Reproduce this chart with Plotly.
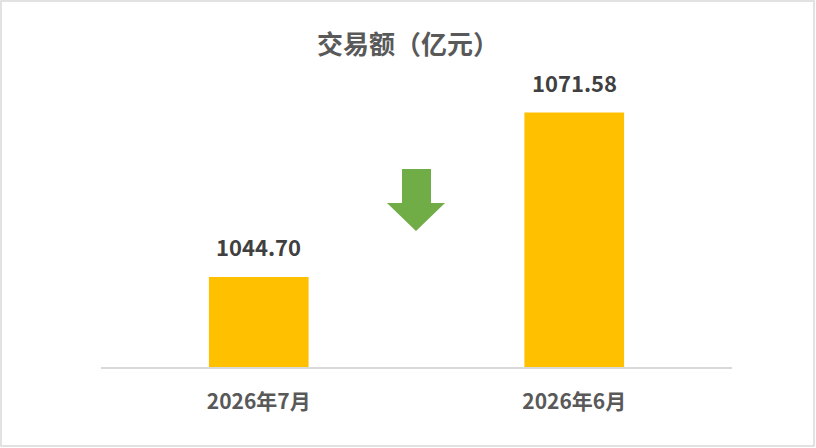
import plotly.graph_objects as go

# data
months = ['2026年7月', '2026年6月']
amounts = [1044.70, 1071.58]
title_text = '交易额（亿元）'

bar_color = '#FFC000'
arrow_color = '#70AD47'
font_family = 'Noto Sans CJK SC'

W, H = 816, 448
margin = dict(l=101, r=84, t=61, b=81)
pw = W - margin['l'] - margin['r']
ph = H - margin['t'] - margin['b']


def px_to_paper(x, y):
    # pixel coords of the page -> paper coords of the plot area
    return (x - margin['l']) / pw, (H - margin['b'] - y) / ph


fig = go.Figure()
fig.add_trace(go.Bar(
    x=months,
    y=amounts,
    marker=dict(color=bar_color, line=dict(width=0)),
    width=0.316,
    hoverinfo='skip'
))

# value labels above the bars
annotations = []
for m, v in zip(months, amounts):
    annotations.append(dict(
        x=m, y=v, xref='x', yref='y',
        text='<b>%.2f</b>' % v,
        showarrow=False,
        yanchor='bottom',
        yshift=13,
        font=dict(family=font_family, size=22, color='#404040')
    ))

# green down arrow between the bars
pts = [(402, 169), (431, 169), (431, 203), (445, 203), (416, 231),
       (387, 203), (402, 203)]
pts = [px_to_paper(x, y) for x, y in pts]
path = 'M ' + ' L '.join('%.4f,%.4f' % p for p in pts) + ' Z'

# outer border
bx0, by0 = px_to_paper(1, 446)
bx1, by1 = px_to_paper(814, 1)

shapes = [
    dict(type='path', path=path, xref='paper', yref='paper',
         fillcolor=arrow_color, line=dict(width=0)),
    dict(type='rect', xref='paper', yref='paper',
         x0=bx0, y0=by0, x1=bx1, y1=by1,
         line=dict(color='#D9D9D9', width=1.5), fillcolor='rgba(0,0,0,0)'),
]

fig.update_layout(
    width=W, height=H,
    margin=margin,
    paper_bgcolor='white',
    plot_bgcolor='white',
    showlegend=False,
    title=dict(
        text='<b>' + title_text + '</b>',
        x=0.5, xanchor='center',
        y=1 - 45 / H, yanchor='middle',
        font=dict(family=font_family, size=26, color='#595959')
    ),
    annotations=annotations,
    shapes=shapes,
    font=dict(family=font_family)
)

fig.update_xaxes(
    showline=True, linecolor='#D9D9D9', linewidth=1.5,
    showgrid=False, ticks='',
    ticklabelstandoff=15,
    tickfont=dict(family=font_family, size=21, color='#595959'),
    tickprefix='<b>', ticksuffix='</b>'
)
fig.update_yaxes(
    range=[1030, 1080],
    visible=False,
    showgrid=False
)

# drop the default page margin so the figure sits at the top-left corner
fig.write_html('out.html', config={'displayModeBar': False},
               post_script="document.body.style.margin='0';")
